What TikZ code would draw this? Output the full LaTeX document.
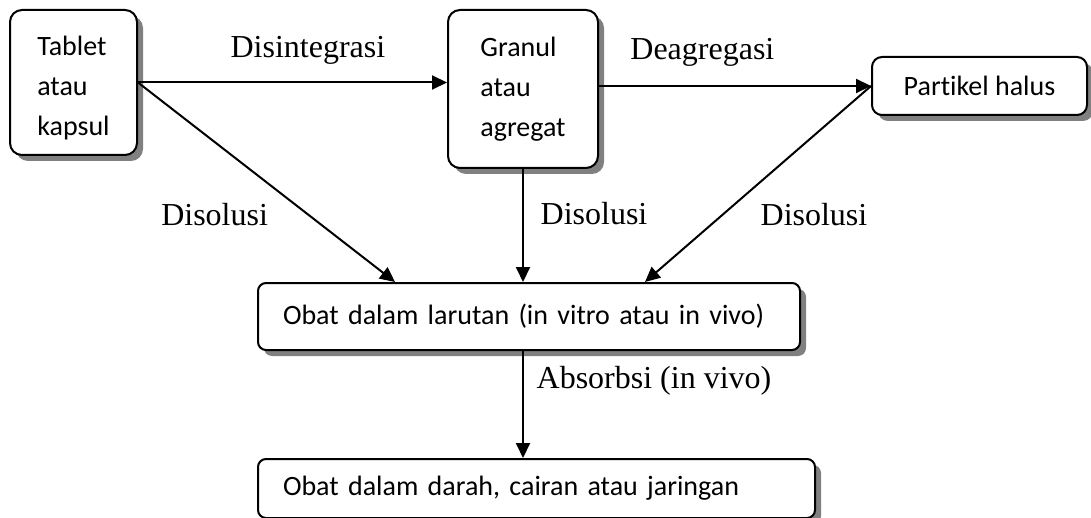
\documentclass[tikz,border=0pt]{standalone}
\usepackage{fontspec}
\setmainfont{Liberation Serif}
\newfontfamily\kotakfont[Ligatures=NoCommon]{Carlito}
\usetikzlibrary{arrows.meta,shadows,calc}
\tikzset{
  kotak/.style={draw, line width=1pt, fill=white, rounded corners=6pt,
    drop shadow={shadow xshift=3pt, shadow yshift=-3pt, fill=black!50, opacity=1},
    font=\kotakfont\fontsize{14}{20}\selectfont, align=left},
  lebar/.style={kotak, rounded corners=4pt, inner xsep=12.5pt},
  panah/.style={line width=1pt, -{Triangle[length=7.5pt,width=7pt]}},
  label/.style={font=\fontsize{16}{19}\selectfont}
}
\begin{document}
\begin{tikzpicture}[x=0.5pt,y=-0.5pt]
\useasboundingbox (0,0) rectangle (1091,518);
% Boxes
\node[kotak, minimum width=63.5pt, minimum height=72.5pt] (tablet) at (73.5,82.5) {\rule{0pt}{15pt}Tablet\\atau\\kapsul};
\node[kotak, minimum width=75pt, minimum height=79pt] (granul) at (523,89) {Granul\\atau\\agregat};
\node[kotak, rounded corners=5pt, minimum width=107.5pt, minimum height=29pt] (partikel) at (979.5,86) {Partikel halus};
\node[lebar, text width=246pt, minimum height=33.5pt] (larutan) at (529,316.5) {\mbox{Obat dalam larutan (in vitro atau in vivo)}};
\node[lebar, text width=253.5pt, minimum height=29.5pt] (darah) at (536.5,488.5) {\mbox{Obat dalam darah, cairan atau jaringan}};
% Arrow ends on the top of the solution box
\coordinate (masuk1) at ($(larutan.north)+(-134,0)$);
\coordinate (masuk3) at ($(larutan.north)+(116,0)$);
% Arrows
\draw[panah] (tablet.east) -- node[label, pos=0.55, yshift=16pt] {Disintegrasi} (tablet.east -| granul.west);
\draw[panah] (granul.east |- partikel.west) -- node[label, pos=0.38, yshift=17pt] {Deagregasi} (partikel.west);
\draw[panah] (tablet.east) -- node[label, pos=0.66, left=16pt] {Disolusi} (masuk1);
\draw[panah] (granul.south) -- node[label, pos=0.41, right=5pt, yshift=1pt] {Disolusi} (granul.south |- larutan.north);
\draw[panah] (partikel.west) -- node[label, pos=0.655, right=15pt] {Disolusi} (masuk3);
\draw[panah] (granul.south |- larutan.south) -- node[label, pos=0.28, right=3pt] {Absorbsi (in vivo)} (granul.south |- darah.north);
\end{tikzpicture}
\end{document}
